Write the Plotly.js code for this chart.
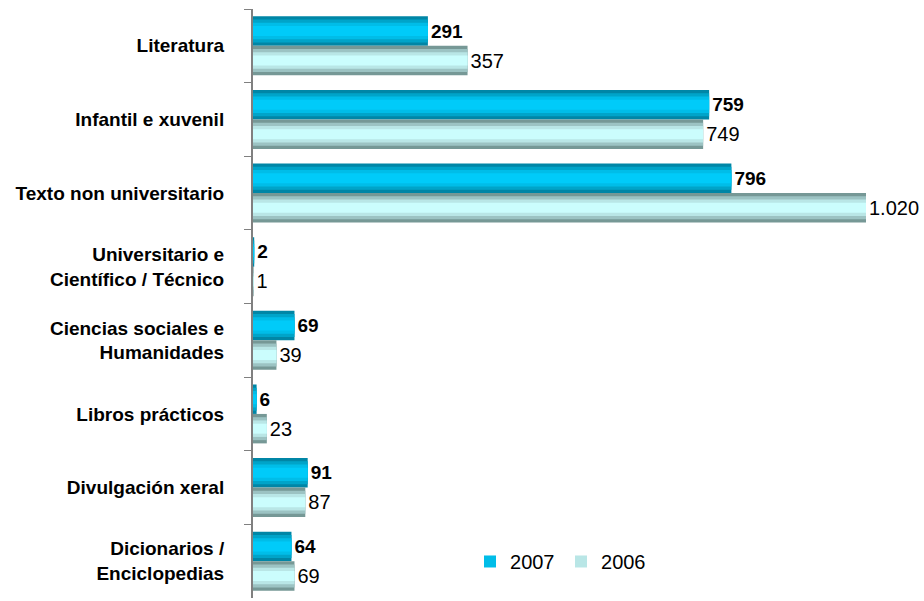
<!DOCTYPE html>
<html>
<head>
<meta charset="utf-8">
<script src="https://cdn.plot.ly/plotly-3.0.1.min.js"></script>
<style>html,body{margin:0;padding:0;background:#fff;}#chart{width:924px;height:601px;}</style>
</head>
<body>
<div id="chart"></div>
<script>
const categories = [
  "Literatura",
  "Infantil e xuvenil",
  "Texto non universitario",
  "Universitario e<br>Científico / Técnico",
  "Ciencias sociales e<br>Humanidades",
  "Libros prácticos",
  "Divulgación xeral",
  "Dicionarios /<br>Enciclopedias"
];
const values2007 = [291, 759, 796, 2, 69, 6, 91, 64];
const values2006 = [357, 749, 1020, 1, 39, 23, 87, 69];
const seriesNames = ["2007", "2006"];

// gradient simulated by stacked overlay layers (outer dark -> inner light)
const layerFractions = [1.0, 0.78, 0.56, 0.34];
const colors2007 = ["#0086a6", "#00a4c9", "#00bde8", "#00cbf9"];
const colors2006 = ["#769896", "#9cc3c3", "#b9e6e6", "#cbfdfd"];

const barWidth = 0.4;
const traces = [];
function addSeries(name, vals, colors, centerOffset, bold, fsize, legendLayer) {
  layerFractions.forEach((f, i) => {
    const w = barWidth * f;
    traces.push({
      type: "bar",
      orientation: "h",
      name: name,
      y: categories,
      x: vals,
      width: w,
      offset: centerOffset - w / 2,
      marker: {color: colors[i], line: {width: 0}},
      showlegend: i === legendLayer,
      legendgroup: name,
      text: i === 0 ? vals : undefined,
      texttemplate: i === 0 ? "%{x:,}" : undefined,
      textposition: i === 0 ? "outside" : "none",
      textfont: {family: "Liberation Sans, Arial, sans-serif", size: fsize, color: "#000", weight: bold ? 700 : 400},
      cliponaxis: false,
      constraintext: "none",
      hoverinfo: "skip"
    });
  });
}
addSeries(seriesNames[0], values2007, colors2007, -0.2, true, 19, 2);
addSeries(seriesNames[1], values2006, colors2006, 0.2, false, 20, 2);

const layout = {
  width: 924,
  height: 601,
  margin: {l: 253, r: 58, t: 9, b: 3},
  paper_bgcolor: "#fff",
  plot_bgcolor: "#fff",
  barmode: "overlay",
  separators: ",.",
  showlegend: true,
  hovermode: false,
  font: {family: "Liberation Sans, Arial, sans-serif", size: 16, color: "#000"},
  xaxis: {
    range: [0, 1020],
    visible: false,
    showgrid: false,
    zeroline: false
  },
  yaxis: {
    type: "category",
    autorange: "reversed",
    showline: true,
    linecolor: "#808080",
    linewidth: 2,
    ticks: "outside",
    tickson: "boundaries",
    ticklen: 7,
    tickwidth: 1,
    tickcolor: "#808080",
    ticklabelstandoff: 23,
    showgrid: false,
    zeroline: false,
    tickfont: {family: "Liberation Sans, Arial, sans-serif", size: 19, color: "#000", weight: 700}
  },
  legend: {
    orientation: "h",
    x: 0.354,
    y: 0.062,
    xanchor: "left",
    yanchor: "middle",
    font: {size: 20},
    traceorder: "normal",
    itemwidth: 30,
    entrywidth: 46,
    bgcolor: "rgba(0,0,0,0)"
  }
};

Plotly.newPlot("chart", traces, layout, {displayModeBar: false, staticPlot: true});
</script>
</body>
</html>
